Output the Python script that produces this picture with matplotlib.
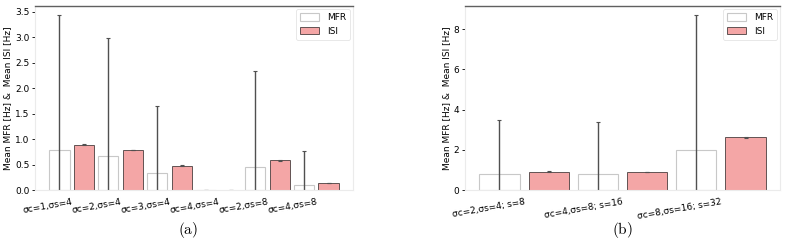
import matplotlib
matplotlib.use("Agg")
import matplotlib.pyplot as plt
import numpy as np

plt.rcParams['mathtext.fontset'] = 'cm'
plt.rcParams['font.family'] = ['DejaVu Sans']

# Panel (a)
cats_a = ["σc=1,σs=4", "σc=2,σs=4", "σc=3,σs=4", "σc=4,σs=4", "σc=2,σs=8", "σc=4,σs=8"]
mfr_a = [0.78, 0.66, 0.33, 0.005, 0.46, 0.10]
mfr_err_a = [2.65, 2.32, 1.31, 0.0, 1.87, 0.66]
isi_a = [0.89, 0.78, 0.48, 0.004, 0.58, 0.14]
isi_err_a = [0.006, 0.005, 0.005, 0.0, 0.005, 0.005]

# Panel (b)
cats_b = ["σc=2,σs=4; s=8", "σc=4,σs=8; s=16", "σc=8,σs=16; s=32"]
mfr_b = [0.81, 0.80, 1.98]
mfr_err_b = [2.66, 2.60, 6.75]
isi_b = [0.91, 0.90, 2.62]
isi_err_b = [0.02, 0.02, 0.02]

fig = plt.figure(figsize=(7.92, 2.42), dpi=100)
ax_a = fig.add_axes([35/792, 1-190/242, 318/792, 184/242])
ax_b = fig.add_axes([465/792, 1-190/242, 315/792, 184/242])

FS = 6.5
ISI_COLOR = 'lightcoral'


def draw(ax, cats, mfr, mfr_err, isi, isi_err, ylim, yticks, yticklabels):
    n = len(cats)
    x = np.arange(n)
    w = 0.41
    ax.bar(x - 0.25, mfr, width=w, color='white', edgecolor='#c8c8c8', linewidth=0.8,
           yerr=mfr_err, error_kw=dict(ecolor='#505050', elinewidth=1.0, capsize=1.5, capthick=0.8),
           label='MFR')
    ax.bar(x + 0.25, isi, width=w, color=ISI_COLOR, alpha=0.7, edgecolor='black', linewidth=0.6,
           yerr=isi_err, error_kw=dict(ecolor='#505050', elinewidth=0.8, capsize=1.5, capthick=0.8),
           label='ISI')
    ax.set_xticks(x)
    ax.set_xticklabels(cats, rotation=10, ha='right', fontsize=FS, rotation_mode='anchor')
    ax.tick_params(axis='x', length=0, pad=5)
    ax.tick_params(axis='y', length=2, width=0.6, labelsize=FS, pad=2)
    ax.set_ylim(*ylim)
    ax.set_yticks(yticks)
    ax.set_yticklabels(yticklabels)
    ax.set_ylabel('Mean MFR [Hz] &  Mean ISI [Hz]', fontsize=FS, labelpad=2)
    for s in ['left', 'right', 'bottom']:
        ax.spines[s].set_color('#ebebeb')
        ax.spines[s].set_linewidth(0.8)
    ax.spines['top'].set_color('#606060')
    ax.spines['top'].set_linewidth(1.0)
    leg = ax.legend(loc='upper right', fontsize=FS, frameon=True, fancybox=True,
                    handlelength=2.1, handleheight=0.9, borderpad=0.45, labelspacing=0.5,
                    borderaxespad=0.35, handletextpad=0.8)
    leg.get_frame().set_edgecolor('#dddddd')
    leg.get_frame().set_linewidth(0.6)


draw(ax_a, cats_a, mfr_a, mfr_err_a, isi_a, isi_err_a, (0, 3.61),
     [0, 0.5, 1.0, 1.5, 2.0, 2.5, 3.0, 3.5],
     ['0.0', '0.5', '1.0', '1.5', '2.0', '2.5', '3.0', '3.5'])
draw(ax_b, cats_b, mfr_b, mfr_err_b, isi_b, isi_err_b, (0, 9.16),
     [0, 2, 4, 6, 8], ['0', '2', '4', '6', '8'])

fig.text(188/792, 1-230/242, r'$\mathrm{(a)}$', ha='center', va='center', fontsize=11)
fig.text(622/792, 1-230/242, r'$\mathrm{(b)}$', ha='center', va='center', fontsize=11)

fig.savefig('out.png', dpi=100)
